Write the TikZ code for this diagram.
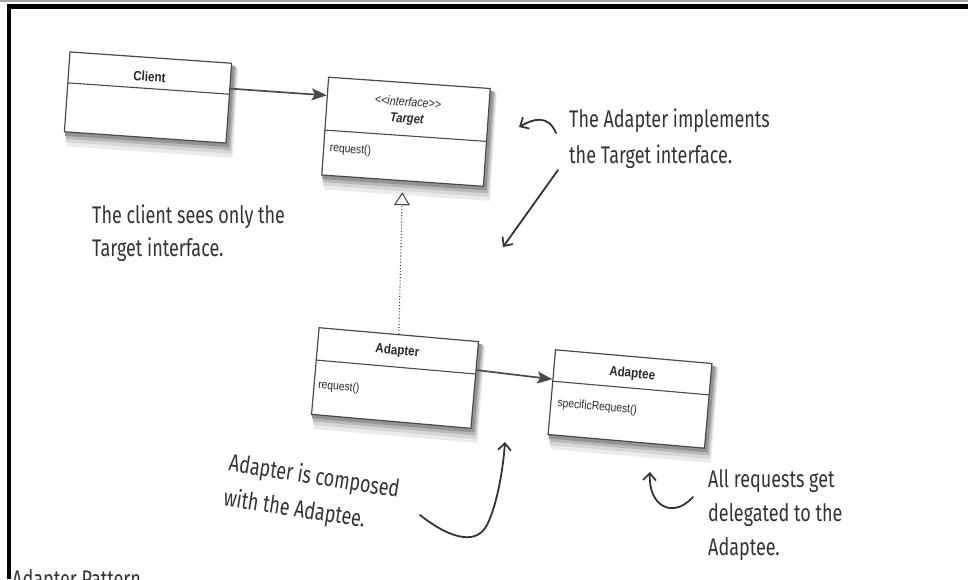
\documentclass[tikz,border=0pt]{standalone}
\usepackage{fontspec}
\setmainfont{Liberation Sans}
\newfontfamily\boxfont[FakeStretch=0.86]{Liberation Sans}
\newfontfamily\hand[FakeStretch=0.75]{Fira Sans}
\usetikzlibrary{arrows.meta,calc}
\pgfdeclarelayer{bg}
\pgfsetlayers{bg,main}
\definecolor{ink}{HTML}{333333}
\definecolor{boxline}{HTML}{4A4A4A}
\definecolor{boxtext}{HTML}{2A2A2A}
\newcommand\boxshadow[1]{%
  \fill[black!8]  ($(#1.north west)+(3,6)$) -- ($(#1.north east)+(6,6)$) -- ($(#1.south east)+(6,14)$) -- ($(#1.south west)+(3,14)$) -- cycle;
  \fill[black!16] ($(#1.north west)+(2,5)$) -- ($(#1.north east)+(5,5)$) -- ($(#1.south east)+(5,10)$) -- ($(#1.south west)+(2,10)$) -- cycle;
  \fill[black!28] ($(#1.north west)+(2,4)$) -- ($(#1.north east)+(4,4)$) -- ($(#1.south east)+(4,6.5)$) -- ($(#1.south west)+(2,6.5)$) -- cycle;
  \fill[black!42] ($(#1.north west)+(1,3)$) -- ($(#1.north east)+(2.5,3)$) -- ($(#1.south east)+(2.5,3.5)$) -- ($(#1.south west)+(1,3.5)$) -- cycle;}
\begin{document}
\begin{tikzpicture}[x=1pt,y=-1pt,
  classbox/.style={draw=boxline, line width=1.2pt, fill=white, inner sep=0pt, transform shape},
  divline/.style={draw=boxline, line width=1.1pt},
  ctitle/.style={font=\boxfont\fontsize{13.5}{15}\selectfont\bfseries, text=boxtext, inner sep=0pt, transform shape},
  cital/.style={font=\boxfont\fontsize{12.5}{14}\selectfont\itshape, text=boxtext, inner sep=0pt, transform shape},
  cmeth/.style={font=\boxfont\fontsize{12}{14}\selectfont, text=boxtext, inner sep=0pt, anchor=west, transform shape},
  assoc/.style={draw=boxline, line width=1.7pt, -{Stealth[length=15pt,width=12pt,inset=3pt]}},
  realize/.style={draw=boxline, line width=1.1pt, dotted, shorten >=11pt, -{Triangle[open,length=13pt,width=16pt,fill=white,line width=1.1pt]}},
  note/.style={font=\hand\fontsize{24}{33}\selectfont, text=ink, align=left, inner sep=0pt},
  pen/.style={draw=ink, line width=1.8pt, line cap=round, line join=round, -{Straight Barb[length=7pt,width=13pt,line width=1.7pt]}}
]
\useasboundingbox (0,0) rectangle (968,579);
\begin{pgfonlayer}{bg}
  \fill[white] (0,0) rectangle (968,579);
\end{pgfonlayer}
% frame
\fill[gray!70] (0,0) rectangle (968,1.6);
\fill[black] (7,4) rectangle (968,8.5);
\fill[black] (7,4) rectangle (11,579);

% Client
\begin{scope}[shift={(148,97.5)}, rotate=-4]
  \node[classbox, minimum width=162pt, minimum height=80pt] (client) at (0,0) {};
  \draw[divline] (-81,-9) -- (81,-9);
  \node[ctitle] (clientname) at (0,-21) {Client};
\end{scope}

% Target
\begin{scope}[shift={(406,131.75)}, rotate=-4]
  \node[classbox, minimum width=162pt, minimum height=98pt] (target) at (0,0) {};
  \draw[divline] (-81,4) -- (81,4);
  \node[cital] (stereo) at (0,-30) {<<interface>>};
  \node[ctitle, font=\boxfont\fontsize{13}{15}\selectfont\bfseries\itshape] (targetname) at (0,-12) {Target};
  \node[cmeth] (treq) at (-75,22) {request()};
\end{scope}

% Adapter
\begin{scope}[shift={(395,378)}, rotate=-5]
  \node[classbox, minimum width=160pt, minimum height=87pt] (adapter) at (0,0) {};
  \draw[divline] (-80,-11) -- (80,-11);
  \node[ctitle] (adaptername) at (0,-27) {Adapter};
  \node[cmeth] (areq) at (-76,14) {request()};
\end{scope}

% Adaptee
\begin{scope}[shift={(630,399)}, rotate=-5]
  \node[classbox, minimum width=157pt, minimum height=85pt] (adaptee) at (0,0) {};
  \draw[divline] (-78.5,-11) -- (78.5,-11);
  \node[ctitle] (adapteename) at (0,-25) {Adaptee};
  \node[cmeth] (sreq) at (-72,11) {specificRequest()};
\end{scope}

% shadows behind the boxes
\begin{pgfonlayer}{bg}
  \boxshadow{client}
  \boxshadow{target}
  \boxshadow{adapter}
  \boxshadow{adaptee}
\end{pgfonlayer}

% UML connectors
\draw[assoc] ($(client.north east)!0.32!(client.south east)$) -- ($(target.north west)!0.19!(target.south west)$);
\draw[assoc] ($(adapter.north east)!0.33!(adapter.south east)$) -- ($(adaptee.north west)!0.35!(adaptee.south west)$);
\draw[realize] (adapter.north) -- (target.south);

% notes
\node[note, anchor=north west] (n1) at (92,205) {The client sees only the\\Target interface.};
\node[note, anchor=north west, font=\hand\fontsize{24}{36}\selectfont] (n2) at (569,109) {The Adapter implements\\the Target interface.};
\node[note, anchor=north west, rotate=-9, font=\hand\fontsize{24}{35}\selectfont] (n3) at (231,452) {Adapter is composed\\with the Adaptee.};
\node[note, anchor=north west, font=\hand\fontsize{24}{34}\selectfont] (n4) at (708,469) {All requests get\\delegated to the\\Adaptee.};

% hand-drawn pointers
\coordinate (p1s) at (556,133); \coordinate (p1e) at (519,127);
\coordinate (p2s) at (558,170); \coordinate (p2e) at (503,247);
\coordinate (p3s) at (420,515); \coordinate (p3m) at (487,525); \coordinate (p3e) at (505,442);
\coordinate (p4s) at (693,497); \coordinate (p4e) at (650,472);
\draw[pen] (p1s) .. controls (548,114) and (533,119) .. (p1e);
\draw[pen] (p2s) -- (p2e);
\draw[pen] (p3s) .. controls (445,535) and (475,548) .. (p3m) .. controls (497,505) and (503,470) .. (p3e);
\draw[pen] (p4s) .. controls (672,520) and (648,505) .. (p4e);

% cut-off caption at the bottom edge, as in the reference
\begin{scope}
  \clip (0,0) rectangle (968,579);
  \node[anchor=base west, inner sep=0pt, font=\hand\fontsize{24}{26}\selectfont, text=ink] (caption) at (12,587) {Adapter Pattern};
\end{scope}
\end{tikzpicture}
\end{document}
